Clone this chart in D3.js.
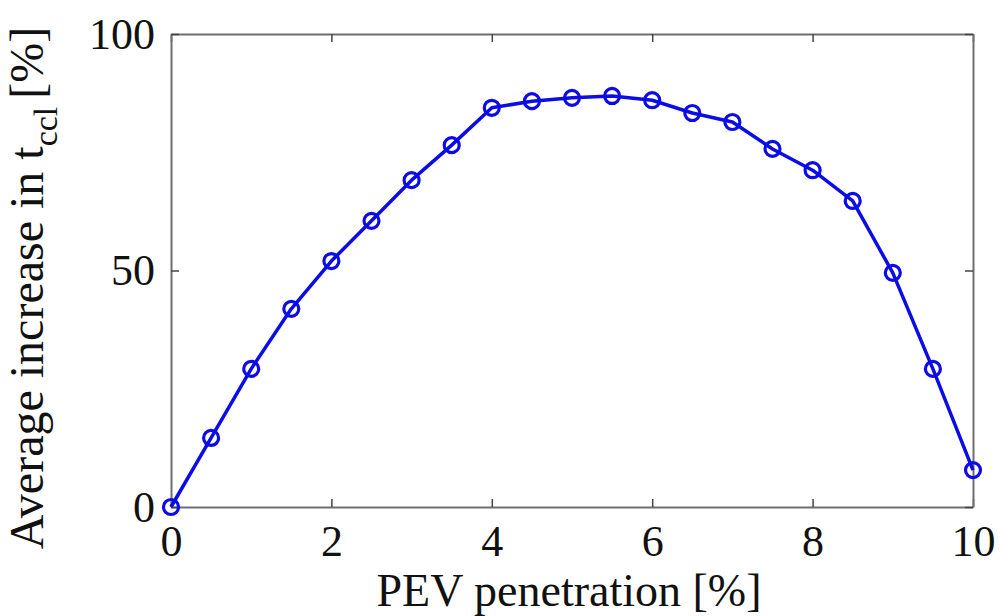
<!DOCTYPE html>
<html>
<head>
<meta charset="utf-8">
<script src="https://cdn.jsdelivr.net/npm/d3@7.9.0/dist/d3.min.js"></script>
<style>
  body { margin: 0; background: #fff; }
  svg { display: block; }
  text { font-family: "Liberation Serif", "Times New Roman", serif; fill: #111; }
</style>
</head>
<body>
<svg id="chart" width="1000" height="616"></svg>
<script>
// data
const penetration = [0, 0.5, 1, 1.5, 2, 2.5, 3, 3.5, 4, 4.5, 5, 5.5, 6, 6.5, 7, 7.5, 8, 8.5, 9, 9.5, 10];
const increase = [0, 14.6, 29.2, 41.9, 52.0, 60.5, 69.1, 76.5, 84.4, 85.8, 86.5, 86.9, 86.0, 83.3, 81.4, 75.7, 71.2, 64.7, 49.5, 29.2, 7.8];
const xTicks = [0, 2, 4, 6, 8, 10];
const yTicks = [0, 50, 100];

const svg = d3.select('#chart');
const m = { left: 171, right: 27, top: 34, bottom: 109 };
const W = 1000, H = 616;

const x = d3.scaleLinear().domain([0, 10]).range([m.left, W - m.right]);
const y = d3.scaleLinear().domain([0, 100]).range([H - m.bottom, m.top]);

const frameColor = '#6e6e6e';
const tickLen = 8;

// axes with inward ticks on all four sides
const axes = [
  { ax: d3.axisBottom(x).tickValues(xTicks), t: `translate(0,${y(0)})`, labels: true, pad: 10 },
  { ax: d3.axisTop(x).tickValues(xTicks), t: `translate(0,${y(100)})`, labels: false, pad: 10 },
  { ax: d3.axisLeft(y).tickValues(yTicks), t: `translate(${x(0)},0)`, labels: true, pad: 8 },
  { ax: d3.axisRight(y).tickValues(yTicks), t: `translate(${x(10)},0)`, labels: false, pad: 8 }
];

axes.forEach(a => {
  const g = svg.append('g').attr('transform', a.t)
    .call(a.ax.tickSizeInner(-tickLen).tickSizeOuter(0).tickPadding(tickLen + a.pad));
  g.select('.domain').attr('stroke', frameColor).attr('stroke-width', 2);
  g.selectAll('.tick line').attr('stroke', '#444').attr('stroke-width', 1.5);
  g.selectAll('.tick text')
    .attr('font-size', 44)
    .attr('font-family', '"Liberation Serif", "Times New Roman", serif')
    .attr('fill', '#111');
  if (!a.labels) g.selectAll('.tick text').remove();
});

// line + markers
const line = d3.line().x((d, i) => x(penetration[i])).y(d => y(d));
const blue = '#0c0ce6';

svg.append('path')
  .datum(increase)
  .attr('d', line)
  .attr('fill', 'none')
  .attr('stroke', blue)
  .attr('stroke-width', 3.5)
  .attr('stroke-linejoin', 'round');

svg.append('g').selectAll('circle')
  .data(increase)
  .join('circle')
  .attr('cx', (d, i) => x(penetration[i]))
  .attr('cy', d => y(d))
  .attr('r', 7.5)
  .attr('fill', 'none')
  .attr('stroke', blue)
  .attr('stroke-width', 3.2);

// axis titles
svg.append('text')
  .attr('x', 569)
  .attr('y', 606)
  .attr('text-anchor', 'middle')
  .attr('font-size', 46)
  .text('PEV penetration [%]');

const yl = svg.append('text')
  .attr('transform', `translate(43,288) rotate(-90)`)
  .attr('text-anchor', 'middle')
  .attr('font-size', 48);
yl.append('tspan').text('Average increase in t');
yl.append('tspan').attr('font-size', 34).attr('dy', 14).text('ccl');
yl.append('tspan').attr('dy', -14).attr('dx', 8).text('[%]');
</script>
</body>
</html>
